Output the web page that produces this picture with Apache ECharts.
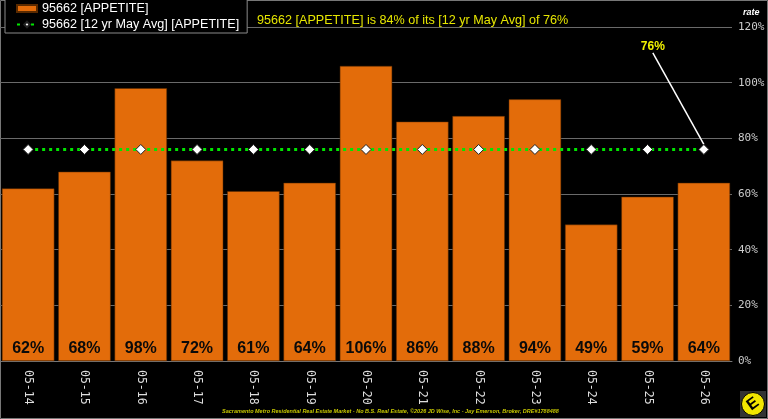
<!DOCTYPE html>
<html>
<head>
<meta charset="utf-8">
<script src="https://cdn.jsdelivr.net/npm/echarts@6/dist/echarts.min.js"></script>
<style>
  html, body { margin: 0; padding: 0; background: #000; }
  #chart { width: 768px; height: 419px; }
</style>
</head>
<body>
<div id="chart"></div>
<script>
const categories = ['05-14', '05-15', '05-16', '05-17', '05-18', '05-19', '05-20',
  '05-21', '05-22', '05-23', '05-24', '05-25', '05-26']
const appetite = [62, 68, 98, 72, 61, 64, 106, 86, 88, 94, 49, 59, 64]
const avg12yr = [76, 76, 76, 76, 76, 76, 76, 76, 76, 76, 76, 76, 76]
const yTicks = { min: 0, max: 120, interval: 20 }

const barName = '95662 [APPETITE]'
const avgName = '95662 [12 yr May Avg] [APPETITE]'
const mono = '"DejaVu Sans Mono", "Liberation Mono", monospace'
const sans = '"Liberation Sans", Arial, sans-serif'

const lastIdx = avg12yr.length - 1
const avgData = avg12yr.map((v, i) => i === lastIdx
  ? {
      value: v,
      label: {
        show: true,
        formatter: '{c}%',
        color: '#f2f200',
        fontWeight: 'bold',
        fontSize: 12,
        fontFamily: sans
      },
      labelLine: { show: true, lineStyle: { color: '#fff', width: 1.5 } }
    }
  : v)

const chart = echarts.init(document.getElementById('chart'))

chart.setOption({
  backgroundColor: '#000',
  animation: false,
  title: [
    {
      text: `${barName} is 84% of its [12 yr May Avg] of 76%`,
      left: 252,
      top: 9,
      textStyle: { color: '#e6e600', fontSize: 12.6, fontWeight: 'normal', fontFamily: sans }
    },
    {
      text: 'Sacramento Metro Residential Real Estate Market - No B.S. Real Estate, \u00a92026 JD Wise, Inc - Jay Emerson, Broker, DRE#1788488',
      left: 222,
      top: 408,
      padding: 0,
      textStyle: { color: '#c8c800', fontSize: 5.5, fontStyle: 'italic', fontWeight: 'bold', fontFamily: sans }
    }
  ],
  legend: {
    orient: 'vertical',
    left: 5,
    top: -1,
    padding: [3, 8, 2, 11],
    itemGap: 3,
    itemWidth: 20,
    itemHeight: 7,
    backgroundColor: '#000',
    borderColor: '#8a8a8a',
    borderWidth: 1,
    textStyle: { color: '#fff', fontSize: 12.6, fontFamily: sans },
    data: [
      { name: barName, icon: 'rect' },
      { name: avgName }
    ]
  },
  grid: { left: 0, right: 36, top: 27, bottom: 58 },
  xAxis: {
    type: 'category',
    data: categories,
    axisLine: { lineStyle: { color: '#777' } },
    axisTick: { show: false },
    axisLabel: {
      rotate: -90,
      color: '#ddd',
      fontSize: 11.5,
      fontFamily: mono,
      margin: 9
    }
  },
  yAxis: {
    type: 'value',
    position: 'right',
    min: yTicks.min,
    max: yTicks.max,
    interval: yTicks.interval,
    name: 'rate',
    nameGap: 10,
    nameTextStyle: { color: '#fff', fontSize: 9, fontStyle: 'italic', fontWeight: 'bold', fontFamily: sans, align: 'left', padding: [0, 0, 0, 11] },
    axisLine: { show: false },
    axisTick: { show: false },
    splitLine: { lineStyle: { color: '#6a6a6a', width: 1 } },
    axisLabel: {
      formatter: '{value}%',
      color: '#ccc',
      fontSize: 11,
      fontFamily: mono,
      margin: 6
    }
  },
  series: [
    {
      name: barName,
      type: 'bar',
      data: appetite,
      barCategoryGap: '7%',
      itemStyle: { color: '#e36c0a', borderColor: '#5a2a00', borderWidth: 0.5 },
      label: {
        show: true,
        position: 'insideBottom',
        distance: 4,
        formatter: '{c}%',
        color: '#0a0a0a',
        textBorderWidth: 0,
        fontSize: 16,
        fontWeight: 'bold',
        fontFamily: sans
      }
    },
    {
      name: avgName,
      type: 'line',
      data: avgData,
      z: 5,
      symbol: 'diamond',
      symbolSize: 10,
      showAllSymbol: true,
      itemStyle: { color: '#fff', borderColor: '#222', borderWidth: 1 },
      lineStyle: { color: '#00e600', width: 3, type: [3, 4] },
      label: { show: false },
      labelLayout: { dx: -51, dy: -86 }
    }
  ],
  graphic: [
    {
      type: 'rect',
      shape: { x: 0.5, y: 0.5, width: 767, height: 418 },
      style: { fill: 'none', stroke: '#777', lineWidth: 1 },
      silent: true
    },
    {
      type: 'group',
      right: 2,
      bottom: 2,
      children: [
        { type: 'rect', shape: { x: 0, y: 0, width: 26, height: 26 }, style: { fill: '#333' } },
        { type: 'circle', shape: { cx: 13, cy: 13, r: 11.5 }, style: { fill: '#f2e600', stroke: '#000', lineWidth: 1 } },
        {
          type: 'text', x: 13, y: 13, rotation: Math.PI / 5,
          style: { text: 'E', fill: '#000', font: 'bold 16px ' + sans, align: 'center', verticalAlign: 'middle' }
        }
      ]
    }
  ]
})
</script>
</body>
</html>
